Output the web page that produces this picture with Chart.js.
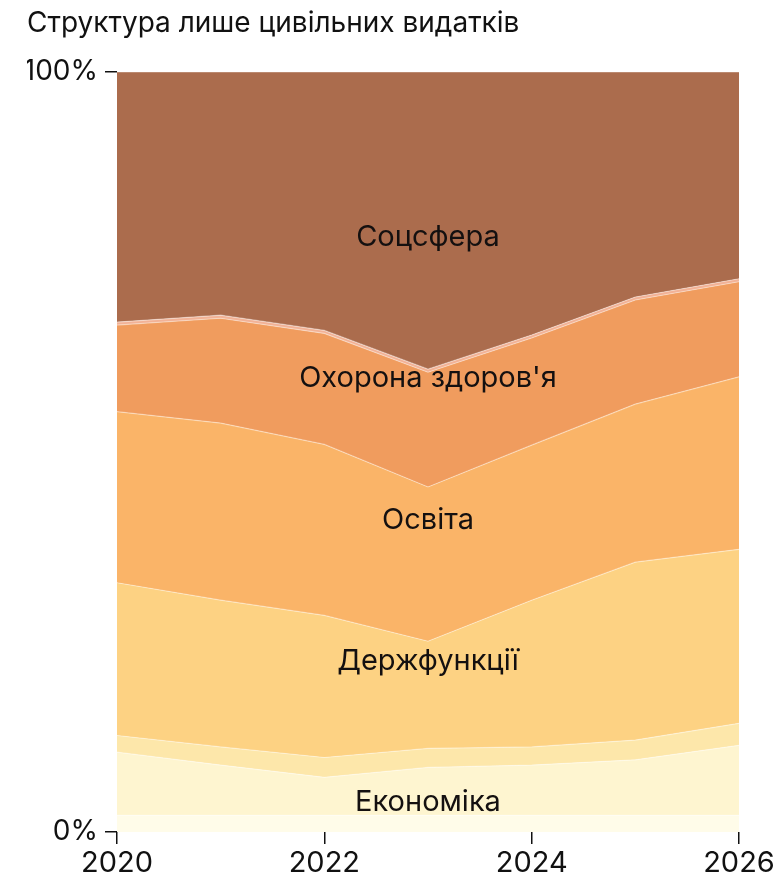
<!DOCTYPE html>
<html>
<head>
<meta charset="utf-8">
<script src="https://cdn.jsdelivr.net/npm/chart.js@4/dist/chart.umd.min.js"></script>
<style>
  html, body { margin: 0; padding: 0; background: #fff; }
  canvas { display: block; }
</style>
</head>
<body>
<canvas id="grafic" width="780" height="887"></canvas>
<script>
// роки і частки (%) кожного шару, знизу вгору
const roky = [2020, 2021, 2022, 2023, 2024, 2025, 2026];

const inshe       = [2.2, 2.2, 2.2, 2.2, 2.2, 2.2, 2.2];
const ekonomika   = [8.3, 6.6, 5.0, 6.3, 6.6, 7.3, 9.2];
const inshe2      = [2.2, 2.4, 2.6, 2.5, 2.4, 2.6, 2.9];
const derzhfunk   = [20.1, 19.3, 18.7, 14.1, 19.3, 23.4, 22.9];
const osvita      = [22.5, 23.3, 22.5, 20.3, 20.4, 20.8, 22.7];
const okhorona    = [11.4, 13.8, 14.6, 15.1, 14.1, 13.7, 12.5];
const inshe3      = [0.4, 0.4, 0.4, 0.4, 0.4, 0.4, 0.4];
const socsfera    = [32.9, 32.0, 34.0, 39.1, 34.6, 29.6, 27.2];

const xTicks = [2020, 2022, 2024, 2026];
const yTicks = [0, 100];

// підписи шарів на графіку
const napysy = ['Соцсфера', "Охорона здоров'я", 'Освіта', 'Держфункції', 'Економіка'];
const napysyY = [78.3, 59.7, 41.0, 22.4, 3.9];
const napysyX = 2023;

const shryft = 'Inter, "Noto Sans", sans-serif';

function shar(nazva, dani, kolir, i) {
  return {
    label: nazva,
    data: roky.map((r, k) => ({ x: r, y: dani[k] })),
    backgroundColor: kolir,
    borderColor: 'rgba(255,255,255,0.4)',
    borderWidth: 1.2,
    pointRadius: 0,
    tension: 0,
    fill: i === 0 ? 'origin' : '-1'
  };
}

const pidpysy = {
  id: 'pidpysy',
  afterDatasetsDraw(chart) {
    const c = chart.ctx;
    const xs = chart.scales.x, ys = chart.scales.y;
    c.save();
    c.font = '29px ' + shryft;
    c.fillStyle = '#141010';
    c.textAlign = 'center';
    c.textBaseline = 'middle';
    napysy.forEach((t, i) => {
      c.fillText(t, xs.getPixelForValue(napysyX), ys.getPixelForValue(napysyY[i]));
    });
    c.restore();
  }
};

const ctx = document.getElementById('grafic').getContext('2d');

new Chart(ctx, {
  type: 'line',
  data: {
    datasets: [
      shar('Інше', inshe, '#fffce9', 0),
      shar('Економіка', ekonomika, '#fef5d0', 1),
      shar('Інше 2', inshe2, '#fde7aa', 2),
      shar('Держфункції', derzhfunk, '#fdd283', 3),
      shar('Освіта', osvita, '#fab468', 4),
      shar("Охорона здоров'я", okhorona, '#f09c5e', 5),
      shar('Інше 3', inshe3, '#f2b296', 6),
      shar('Соцсфера', socsfera, '#ab6c4d', 7)
    ]
  },
  plugins: [pidpysy],
  options: {
    responsive: false,
    animation: false,
    layout: { padding: { left: 27, right: 41, top: 0, bottom: 0 } },
    plugins: {
      legend: { display: false },
      tooltip: { enabled: false },
      title: {
        display: true,
        text: 'Структура лише цивільних видатків',
        align: 'start',
        color: '#111',
        font: { family: shryft, size: 28, weight: 'normal', lineHeight: 1.2 },
        padding: { top: 7, bottom: 31.4 }
      }
    },
    scales: {
      x: {
        type: 'linear',
        min: 2020,
        max: 2026,
        border: { display: false },
        grid: { drawOnChartArea: false, tickLength: 12, color: '#111', lineWidth: 1.5 },
        afterBuildTicks(s) { s.ticks = xTicks.map(v => ({ value: v })); },
        afterFit(s) { s.height = 55; },
        ticks: {
          color: '#111',
          padding: 2,
          maxRotation: 0,
          font: { family: shryft, size: 29 },
          callback: v => String(v)
        }
      },
      y: {
        stacked: true,
        min: 0,
        max: 100,
        border: { display: false },
        grid: { drawOnChartArea: false, tickLength: 12, color: '#111', lineWidth: 1.5 },
        afterBuildTicks(s) { s.ticks = yTicks.map(v => ({ value: v })); },
        afterFit(s) { s.width = 90; },
        ticks: {
          color: '#111',
          padding: 7,
          font: { family: shryft, size: 28 },
          callback: v => v + '%'
        }
      }
    }
  }
});
</script>
</body>
</html>
